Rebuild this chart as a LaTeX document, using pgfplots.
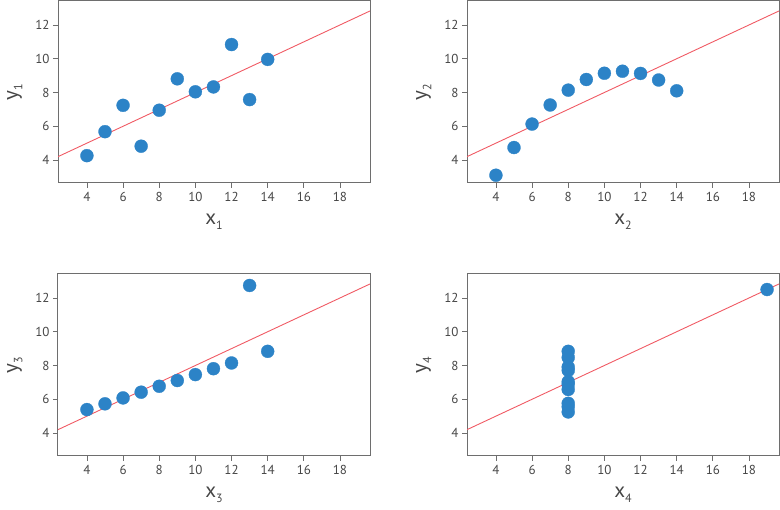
\documentclass[border=0pt]{standalone}
\usepackage{fontspec}
\setmainfont{PT Sans}
\usepackage{pgfplots}
\pgfplotsset{compat=1.18}

\definecolor{dotblue}{RGB}{44,131,199}
\definecolor{fitred}{RGB}{240,90,100}
\definecolor{framegray}{RGB}{110,110,110}
\definecolor{textgray}{RGB}{70,70,70}

\newcommand{\sub}[2]{#1\raisebox{-0.45ex}{\fontsize{12}{12}\selectfont #2}}

\pgfplotsset{
  quartet/.style={
    scale only axis, width=312pt, height=182pt, anchor=south west,
    xmin=2.4, xmax=19.66, ymin=2.64, ymax=13.42,
    xtick={4,6,...,18}, ytick={4,6,...,12},
    xtick pos=bottom, ytick pos=left, tick align=outside,
    major tick length=5pt,
    axis line style={framegray, line width=1pt},
    every tick/.style={framegray, line width=0.8pt},
    tick label style={font=\fontsize{13}{13}\selectfont, text=textgray},
    /pgf/number format/assume math mode=true,
    xticklabel style={yshift=-1pt},
    label style={font=\fontsize{21}{21}\selectfont, text=textgray},
    xlabel style={yshift=-5pt},
    ylabel style={yshift=6pt},
    clip=true,
  },
  dots/.style={only marks, mark=*, mark size=6.5pt,
    mark options={fill=dotblue, draw=dotblue, line width=0.3pt}},
  fit/.style={fitred, line width=0.9pt, no marks},
}

\begin{document}
\begin{tikzpicture}[x=1pt,y=1pt]
\path[use as bounding box] (0,0) rectangle (780,510);

% I
\begin{axis}[quartet, at={(58pt,327pt)}, xlabel={\sub{x}{1}}, ylabel={\sub{y}{1}}]
\addplot[dots] coordinates {
(10,8.04) (8,6.95) (13,7.58) (9,8.81) (11,8.33) (14,9.96)
(6,7.24) (4,4.26) (12,10.84) (7,4.82) (5,5.68)};
\addplot[fit] coordinates {(2.4,4.2) (19.66,12.83)};
\end{axis}

% II
\begin{axis}[quartet, at={(467pt,327pt)}, xlabel={\sub{x}{2}}, ylabel={\sub{y}{2}}]
\addplot[dots] coordinates {
(10,9.14) (8,8.14) (13,8.74) (9,8.77) (11,9.26) (14,8.10)
(6,6.13) (4,3.10) (12,9.13) (7,7.26) (5,4.74)};
\addplot[fit] coordinates {(2.4,4.2) (19.66,12.83)};
\end{axis}

% III
\begin{axis}[quartet, at={(58pt,54pt)}, xlabel={\sub{x}{3}}, ylabel={\sub{y}{3}}]
\addplot[dots] coordinates {
(10,7.46) (8,6.77) (13,12.74) (9,7.11) (11,7.81) (14,8.84)
(6,6.08) (4,5.39) (12,8.15) (7,6.42) (5,5.73)};
\addplot[fit] coordinates {(2.4,4.2) (19.66,12.83)};
\end{axis}

% IV
\begin{axis}[quartet, at={(467pt,54pt)}, xlabel={\sub{x}{4}}, ylabel={\sub{y}{4}}]
\addplot[dots] coordinates {
(8,6.58) (8,5.76) (8,7.71) (8,8.84) (8,8.47) (8,7.04)
(8,5.25) (19,12.50) (8,5.56) (8,7.91) (8,6.89)};
\addplot[fit] coordinates {(2.4,4.2) (19.66,12.83)};
\end{axis}
\end{tikzpicture}
\end{document}
